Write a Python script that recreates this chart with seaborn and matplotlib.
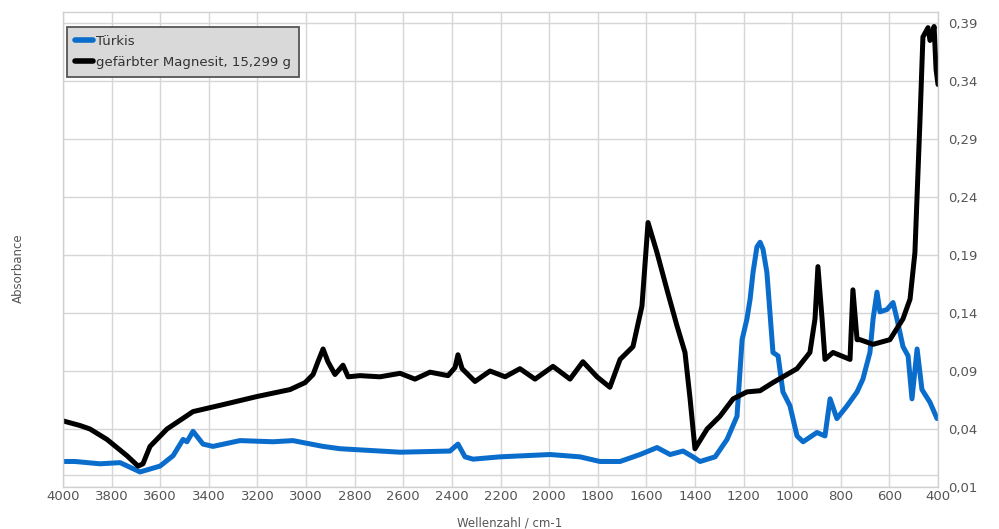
import matplotlib
matplotlib.use("Agg")
import matplotlib.pyplot as plt
import seaborn as sns
import pandas as pd

# IR spectra: wavenumber (cm-1) and absorbance
turkis_wn = [4000, 3951, 3848, 3765, 3683, 3601, 3547, 3506, 3490, 3465, 3424, 3383,
             3272, 3136, 3054, 2930, 2860, 2613, 2408, 2375, 2346, 2313, 2202, 1996,
             1873, 1791, 1708, 1626, 1556, 1502, 1449, 1408, 1379, 1317, 1268, 1227,
             1206, 1186, 1173, 1161, 1145, 1132, 1120, 1104, 1079, 1058, 1038, 1009,
             980, 955, 898, 865, 844, 816, 774, 733, 709, 680, 667, 651, 639, 610,
             585, 569, 544, 523, 507, 486, 466, 433, 404]
turkis_abs = [0.012, 0.012, 0.010, 0.011, 0.003, 0.008, 0.017, 0.031, 0.029, 0.038, 0.027, 0.025,
              0.030, 0.029, 0.030, 0.025, 0.023, 0.020, 0.021, 0.027, 0.016, 0.014, 0.016, 0.018,
              0.016, 0.012, 0.012, 0.018, 0.024, 0.018, 0.021, 0.016, 0.012, 0.016, 0.031, 0.051,
              0.117, 0.135, 0.152, 0.175, 0.197, 0.201, 0.195, 0.175, 0.106, 0.103, 0.072, 0.060,
              0.034, 0.029, 0.037, 0.034, 0.066, 0.049, 0.060, 0.072, 0.083, 0.106, 0.135, 0.158,
              0.141, 0.143, 0.149, 0.135, 0.111, 0.103, 0.066, 0.109, 0.074, 0.063, 0.049]

magnesit_wn = [4000, 3930, 3889, 3819, 3737, 3691, 3671, 3642, 3572, 3465, 3342, 3202,
               3066, 3004, 2971, 2951, 2930, 2910, 2881, 2848, 2827, 2778, 2696, 2613,
               2552, 2490, 2416, 2387, 2375, 2358, 2305, 2243, 2181, 2120, 2058, 1984,
               1914, 1861, 1803, 1750, 1708, 1655, 1618, 1593, 1556, 1515, 1474, 1441,
               1420, 1400, 1350, 1297, 1243, 1186, 1132, 1079, 980, 927, 906, 894, 877,
               865, 832, 762, 750, 733, 721, 667, 598, 544, 515, 495, 474, 462, 441,
               433, 416, 408, 400]
magnesit_abs = [0.047, 0.043, 0.040, 0.031, 0.017, 0.008, 0.010, 0.025, 0.040, 0.055, 0.061, 0.068,
                0.074, 0.080, 0.087, 0.098, 0.109, 0.098, 0.087, 0.095, 0.085, 0.086, 0.085, 0.088,
                0.083, 0.089, 0.086, 0.093, 0.104, 0.092, 0.081, 0.090, 0.085, 0.092, 0.083, 0.094,
                0.083, 0.098, 0.085, 0.076, 0.100, 0.111, 0.146, 0.218, 0.192, 0.160, 0.129, 0.106,
                0.066, 0.023, 0.040, 0.051, 0.066, 0.072, 0.073, 0.080, 0.092, 0.106, 0.135, 0.180, 0.135,
                0.100, 0.106, 0.100, 0.160, 0.117, 0.117, 0.113, 0.117, 0.135, 0.152, 0.192, 0.307, 0.378, 0.386,
                0.375, 0.387, 0.350, 0.337]

series_names = ["Türkis", "gefärbter Magnesit, 15,299 g"]
series_colors = ["#0a6dcc", "#000000"]

x_ticks = list(range(4000, 399, -200))
x_tick_labels = [str(v) for v in x_ticks]
y_ticks = [-0.01, 0.04, 0.09, 0.14, 0.19, 0.24, 0.29, 0.34, 0.39]
y_tick_labels = ["0,01", "0,04", "0,09", "0,14", "0,19", "0,24", "0,29", "0,34", "0,39"]

df = pd.concat([
    pd.DataFrame({"wn": turkis_wn, "abs": turkis_abs, "serie": series_names[0]}),
    pd.DataFrame({"wn": magnesit_wn, "abs": magnesit_abs, "serie": series_names[1]}),
])

sns.set_theme(style="whitegrid")
plt.rcParams["font.family"] = ["DejaVu Sans"]

fig = plt.figure(figsize=(9.99, 5.29), dpi=100)
ax = fig.add_axes([63 / 999, 1 - 487 / 529, 875 / 999, 475 / 529])

sns.lineplot(data=df, x="wn", y="abs", hue="serie", palette=dict(zip(series_names, series_colors)),
             estimator=None, sort=True, linewidth=3.6, ax=ax, legend=True)

ax.set_xlim(4000, 400)
ax.set_ylim(-0.01, 0.3995)
ax.set_xticks(x_ticks)
ax.set_xticklabels(x_tick_labels)
ax.set_yticks(y_ticks)
ax.set_yticklabels(y_tick_labels)
ax.yaxis.tick_right()
ax.tick_params(axis="both", length=0, labelsize=9.5, labelcolor="#555555")
ax.tick_params(axis="x", pad=2)
ax.tick_params(axis="y", pad=7)
ax.grid(True, color="#d6d6d6", linewidth=1.0)
ax.axhline(0.0, color="#d6d6d6", linewidth=1.0, zorder=0)
for s in ax.spines.values():
    s.set_color("#d0d0d0")
    s.set_linewidth(1.0)

ax.set_xlabel("Wellenzahl / cm-1", fontsize=8.5, color="#555555")
ax.xaxis.set_label_coords((510 - 63) / 875, -(516 - 487) / 475)
ax.set_ylabel("")
fig.text(18 / 999, 1 - 268 / 529, "Absorbance", rotation=90, fontsize=8.5, color="#555555",
         ha="center", va="center")

leg = ax.legend(loc="upper left", bbox_to_anchor=(4 / 875, 1 - 15 / 475), borderaxespad=0,
                fontsize=9.5, frameon=True, fancybox=False, handlelength=1.4, handletextpad=0.2,
                labelspacing=0.6, borderpad=0.6, title=None)
leg.get_frame().set_facecolor("#d9d9d9")
leg.get_frame().set_edgecolor("#555555")
leg.get_frame().set_linewidth(1.3)
leg.get_frame().set_alpha(1.0)
for line in leg.get_lines():
    line.set_linewidth(4)
for t in leg.get_texts():
    t.set_color("#333333")

fig.savefig("out.png", dpi=100, facecolor="white")
